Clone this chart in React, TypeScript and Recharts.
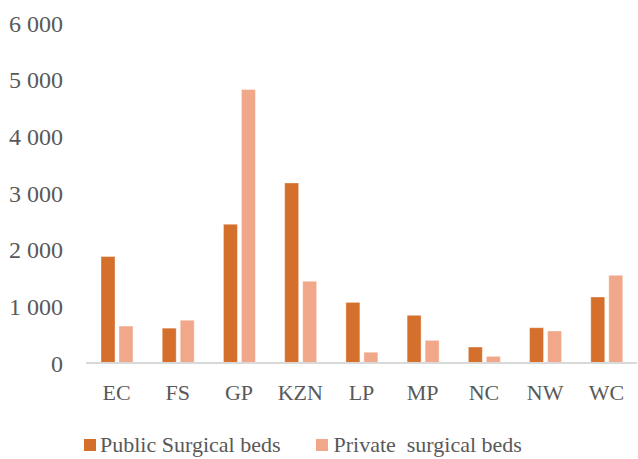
import React from "react";
import { BarChart, Bar, XAxis, YAxis } from "recharts";

const provinces = ["EC", "FS", "GP", "KZN", "LP", "MP", "NC", "NW", "WC"];
const publicBeds = [1880, 615, 2450, 3178, 1070, 842, 282, 623, 1165];
const privateBeds = [652, 755, 4827, 1442, 190, 400, 118, 565, 1548];
const yTicks = [0, 1000, 2000, 3000, 4000, 5000, 6000];

const PUBLIC_COLOR = "#D46F2C";
const PRIVATE_COLOR = "#F1A78A";
const FONT = "Times New Roman, Liberation Serif, Tinos, DejaVu Serif, serif";

const data = provinces.map((p, i) => ({
  name: p,
  public: publicBeds[i],
  private: privateBeds[i],
}));

// thousands with a space, e.g. 6 000
const fmt = (v: number) => (v >= 1000 ? `${Math.floor(v / 1000)} ${String(v % 1000).padStart(3, "0")}` : String(v));

export default function App() {
  return (
    <div style={{ position: "relative", width: 638, height: 459, fontFamily: FONT }}>
      <style>{`body{margin:0}`}</style>
      <BarChart
        width={638}
        height={459}
        data={data}
        margin={{ top: 23, right: 1, left: 0, bottom: 56 }}
        barSize={14}
        barGap={4}
        style={{ fontFamily: FONT }}
      >
        <XAxis
          dataKey="name"
          height={40}
          tickSize={0}
          tickMargin={21}
          tickLine={false}
          axisLine={{ stroke: "#D9D9D9", strokeWidth: 2 }}
          tick={{ fill: "#595959", fontSize: 22, fontFamily: FONT }}
        />
        <YAxis
          width={86}
          domain={[0, 6000]}
          ticks={yTicks}
          tickFormatter={fmt}
          tickSize={0}
          tickMargin={23}
          tickLine={false}
          axisLine={false}
          tick={{ fill: "#595959", fontSize: 24, fontFamily: FONT }}
        />
        <Bar
          dataKey="public"
          name="Public Surgical beds"
          fill={PUBLIC_COLOR}
          stroke="#ffffff"
          strokeOpacity={0.4}
          isAnimationActive={false}
        />
        <Bar
          dataKey="private"
          name="Private  surgical beds"
          fill={PRIVATE_COLOR}
          stroke="#ffffff"
          strokeOpacity={0.4}
          isAnimationActive={false}
        />
      </BarChart>
      <div
        style={{
          position: "absolute",
          top: 431,
          left: 84,
          display: "flex",
          alignItems: "center",
          fontSize: 22,
          color: "#595959",
          whiteSpace: "pre",
          lineHeight: "28px",
        }}
      >
        <span style={{ width: 12, height: 12, background: PUBLIC_COLOR, display: "inline-block", marginRight: 4 }} />
        <span>Public Surgical beds</span>
        <span style={{ width: 12, height: 12, background: PRIVATE_COLOR, display: "inline-block", marginLeft: 36, marginRight: 5 }} />
        <span>Private  surgical beds</span>
      </div>
    </div>
  );
}
